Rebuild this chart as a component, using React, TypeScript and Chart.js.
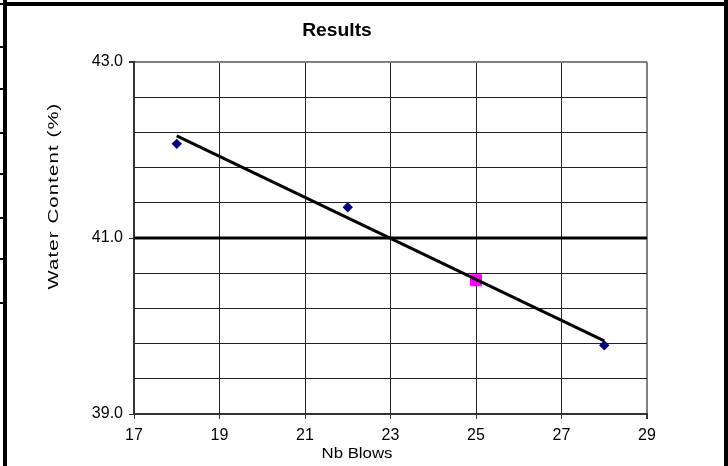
import React, { useEffect, useRef } from 'react';
import { Chart, registerables } from 'chart.js';

Chart.register(...registerables);

// ---- texts ----
const chartTitle = 'Results';
const xAxisTitle = 'Nb Blows';
const yAxisTitle = 'Water Content (%)';

// ---- data ----
const blows = [18, 22, 28];
const waterContent = [42.07, 41.35, 39.78];
const trendBlows = [18, 28];
const trendWater = [42.16, 39.83];
const limitBlows = [17, 29];
const limitWater = [41.0, 41.0];
const resultBlows = [25];
const resultWater = [40.52];

// ---- ticks ----
const xTickValues = [17, 19, 21, 23, 25, 27, 29];
const yTickLabels = [39.0, 41.0, 43.0];
const yMin = 39;
const yMax = 43;
const yGridStep = 0.4;

const FONT = '"Liberation Sans", Arial, sans-serif';

function zip(xs: number[], ys: number[]) {
  return xs.map((x, i) => ({ x, y: ys[i] }));
}

function isLabeled(v: number) {
  return yTickLabels.some((t) => Math.abs(t - v) < 1e-6);
}

function drawStretched(
  ctx: CanvasRenderingContext2D,
  text: string,
  x: number,
  y: number,
  font: string,
  sx: number,
  rot: number,
  spacing = '0px'
) {
  ctx.save();
  ctx.translate(x, y);
  ctx.rotate(rot);
  ctx.scale(sx, 1);
  ctx.font = font;
  (ctx as any).letterSpacing = spacing;
  ctx.fillStyle = '#000';
  ctx.textAlign = 'center';
  ctx.textBaseline = 'alphabetic';
  ctx.fillText(text, 0, 0);
  ctx.restore();
}

const titlesPlugin = {
  id: 'customTitles',
  afterDraw(chart: any) {
    const ctx = chart.ctx as CanvasRenderingContext2D;
    drawStretched(ctx, chartTitle, 337, 36, `bold 18px ${FONT}`, 1.07, 0);
    drawStretched(ctx, xAxisTitle, 357, 458, `14px ${FONT}`, 1.2, 0);
    drawStretched(ctx, yAxisTitle, 58, 196, `14px ${FONT}`, 1.45, -Math.PI / 2, '0.8px');
  },
};

const edgeMarks = [3, 46, 88, 132, 173, 217, 258, 302];

export default function App() {
  const canvasRef = useRef<HTMLCanvasElement | null>(null);

  useEffect(() => {
    if (!canvasRef.current) return;
    const chart = new Chart(canvasRef.current, {
      type: 'scatter',
      data: {
        datasets: [
          {
            label: 'Trend',
            data: zip(trendBlows, trendWater),
            showLine: true,
            borderColor: '#000',
            borderWidth: 3,
            pointRadius: 0,
            order: 0,
          },
          {
            label: 'Limit',
            data: zip(limitBlows, limitWater),
            showLine: true,
            borderColor: '#000',
            borderWidth: 3,
            pointRadius: 0,
            order: 0,
          },
          {
            label: 'Result',
            data: zip(resultBlows, resultWater),
            pointStyle: 'rect',
            pointRadius: 7.8,
            backgroundColor: '#FF00FF',
            borderColor: '#FF00FF',
            borderWidth: 1,
            order: 1,
          },
          {
            label: 'Tests',
            data: zip(blows, waterContent),
            pointStyle: 'rectRot',
            pointRadius: 5.2,
            backgroundColor: '#000080',
            borderColor: '#000080',
            borderWidth: 0,
            order: 1,
          },
        ],
      },
      options: {
        responsive: false,
        animation: false,
        events: [],
        layout: { padding: { left: 0, right: 81, top: 62, bottom: 0 } },
        plugins: {
          legend: { display: false },
          title: { display: false },
          tooltip: { enabled: false },
        },
        scales: {
          x: {
            type: 'linear',
            min: 17,
            max: 29,
            afterBuildTicks: (axis: any) => {
              axis.ticks = xTickValues.map((v) => ({ value: v }));
            },
            afterFit: (axis: any) => {
              axis.height = 52;
            },
            grid: {
              color: (c: any) => (c.tick && c.tick.value === 29 ? '#808080' : '#222'),
              lineWidth: (c: any) => (c.tick && c.tick.value === 29 ? 2 : 1),
              tickLength: 5,
              tickColor: '#333',
              drawTicks: true,
            },
            border: { color: '#333', width: 2 },
            ticks: {
              color: '#000',
              font: { family: FONT, size: 16 },
              padding: 7,
              maxRotation: 0,
              autoSkip: false,
              callback: (v: any) => String(v),
            },
          },
          y: {
            type: 'linear',
            min: yMin,
            max: yMax,
            ticks: {
              stepSize: yGridStep,
              color: '#000',
              font: { family: FONT, size: 16 },
              padding: 6,
              autoSkip: false,
              callback: (v: any) => (isLabeled(Number(v)) ? Number(v).toFixed(1) : ''),
            },
            afterFit: (axis: any) => {
              axis.width = 134;
            },
            grid: {
              color: (c: any) =>
                c.tick && Math.abs(c.tick.value - yMax) < 1e-6 ? '#808080' : '#222',
              lineWidth: (c: any) =>
                c.tick && Math.abs(c.tick.value - yMax) < 1e-6 ? 2 : 1,
              tickLength: 5,
              tickColor: (c: any) =>
                c.tick && isLabeled(c.tick.value) ? '#333' : 'rgba(0,0,0,0)',
              drawTicks: true,
            },
            border: { color: '#333', width: 2 },
          },
        },
      },
      plugins: [titlesPlugin],
    } as any);
    return () => chart.destroy();
  }, []);

  return (
    <div
      style={{
        position: 'fixed',
        left: 0,
        top: 0,
        width: 728,
        height: 466,
        background: '#fff',
        overflow: 'hidden',
      }}
    >
      <canvas ref={canvasRef} width={728} height={466} style={{ display: 'block' }} />
      <div style={{ position: 'absolute', left: 3, top: 0, width: 4, height: 466, background: '#000' }} />
      <div style={{ position: 'absolute', left: 3, top: 2, width: 725, height: 4, background: '#000' }} />
      <div style={{ position: 'absolute', left: 724, top: 0, width: 4, height: 466, background: '#000' }} />
      {edgeMarks.map((y) => (
        <div
          key={y}
          style={{ position: 'absolute', left: 0, top: y, width: 4, height: 2, background: '#000' }}
        />
      ))}
    </div>
  );
}
